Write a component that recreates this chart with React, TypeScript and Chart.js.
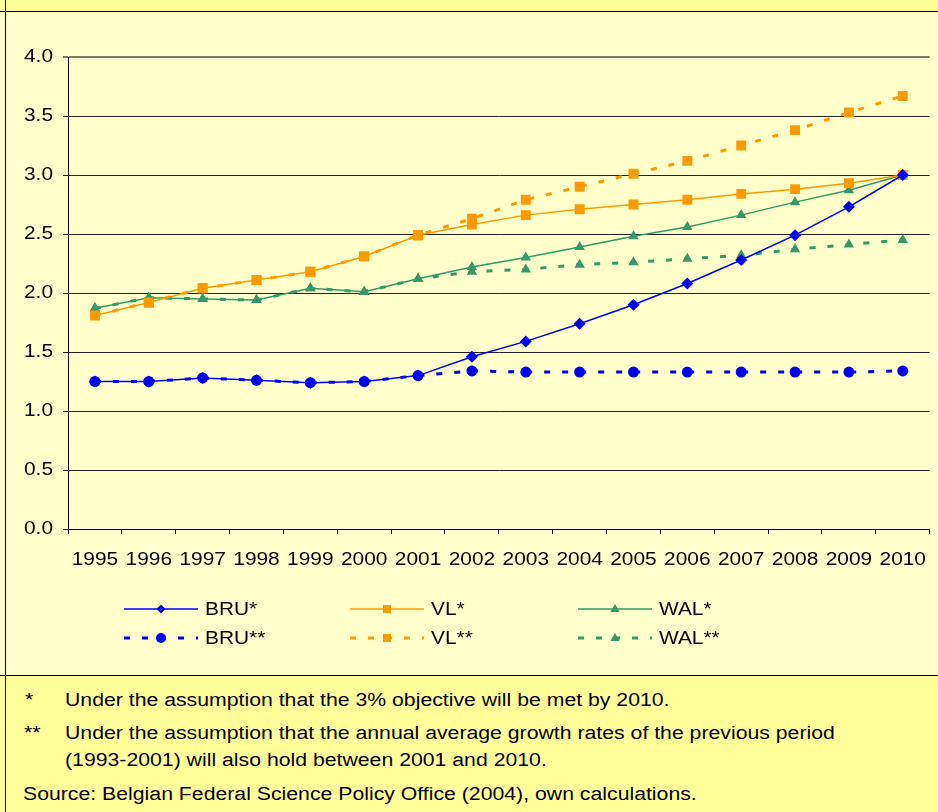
import React, { useEffect, useRef } from 'react';
import { Chart, registerables } from 'chart.js';

Chart.register(...registerables);

// ---- data ----
const years = ['1995', '1996', '1997', '1998', '1999', '2000', '2001', '2002', '2003', '2004', '2005', '2006', '2007', '2008', '2009', '2010'];
const bruObjective = [1.25, 1.25, 1.28, 1.26, 1.24, 1.25, 1.30, 1.46, 1.59, 1.74, 1.90, 2.08, 2.28, 2.49, 2.73, 3.00];
const vlObjective = [1.81, 1.92, 2.04, 2.11, 2.18, 2.31, 2.49, 2.58, 2.66, 2.71, 2.75, 2.79, 2.84, 2.88, 2.93, 3.00];
const walObjective = [1.87, 1.96, 1.95, 1.94, 2.04, 2.01, 2.12, 2.22, 2.30, 2.39, 2.48, 2.56, 2.66, 2.77, 2.87, 3.00];
const bruTrend = [1.25, 1.25, 1.28, 1.26, 1.24, 1.25, 1.30, 1.34, 1.33, 1.33, 1.33, 1.33, 1.33, 1.33, 1.33, 1.34];
const vlTrend = [1.81, 1.92, 2.04, 2.11, 2.18, 2.31, 2.49, 2.63, 2.79, 2.90, 3.01, 3.12, 3.25, 3.38, 3.53, 3.67];
const walTrend = [1.87, 1.96, 1.95, 1.94, 2.04, 2.01, 2.12, 2.18, 2.20, 2.24, 2.26, 2.29, 2.32, 2.37, 2.41, 2.45];
const seriesLabels = ['BRU*', 'VL*', 'WAL*', 'BRU**', 'VL**', 'WAL**'];
const yMin = 0;
const yMax = 4;
const yStep = 0.5;

const footnote1 = 'Under the assumption that the 3% objective will be met by 2010.';
const footnote2a = 'Under the assumption that the annual average growth rates of the previous period';
const footnote2b = '(1993-2001) will also hold between 2001 and 2010.';
const sourceText = 'Source: Belgian Federal Science Policy Office (2004), own calculations.';

const BLUE = '#0000FF';
const ORANGE = '#FF9900';
const GREEN = '#339966';
const FONT = "'Liberation Sans', Arial, Helvetica, sans-serif";
const FONT_SIZE = 18;
const STRETCH = 1.16;
const HTML_STRETCH = 1.18;

function drawMarker(ctx: CanvasRenderingContext2D, style: string, x: number, y: number, r: number, color: string) {
  ctx.save();
  ctx.fillStyle = color;
  ctx.beginPath();
  if (style === 'circle') {
    ctx.arc(x, y, r, 0, Math.PI * 2);
  } else if (style === 'rect') {
    ctx.rect(x - r * 0.8, y - r * 0.8, r * 1.6, r * 1.6);
  } else if (style === 'rectRot') {
    ctx.moveTo(x, y - r);
    ctx.lineTo(x + r, y);
    ctx.lineTo(x, y + r);
    ctx.lineTo(x - r, y);
    ctx.closePath();
  } else if (style === 'triangle') {
    ctx.moveTo(x, y - r);
    ctx.lineTo(x + r * 0.9, y + r * 0.6);
    ctx.lineTo(x - r * 0.9, y + r * 0.6);
    ctx.closePath();
  }
  ctx.fill();
  ctx.restore();
}

const legendPlugin = {
  id: 'customLegend',
  afterDraw(chart: any) {
    const ctx: CanvasRenderingContext2D = chart.ctx;
    const cols = [118, 344, 572];
    const rows = [597, 626];
    const legendSizes: Record<string, number> = { rectRot: 4.5, circle: 5, rect: 5, triangle: 5 };
    chart.data.datasets.forEach((ds: any, i: number) => {
      const x0 = cols[i % 3];
      const y = rows[Math.floor(i / 3)];
      ctx.save();
      ctx.strokeStyle = ds.borderColor;
      ctx.lineWidth = ds.borderWidth;
      ctx.setLineDash(ds.borderDash || []);
      ctx.beginPath();
      ctx.moveTo(x0, y);
      ctx.lineTo(x0 + 74, y);
      ctx.stroke();
      ctx.setLineDash([]);
      drawMarker(ctx, ds.pointStyle, x0 + 37, y, legendSizes[ds.pointStyle], ds.borderColor);
      ctx.fillStyle = '#000';
      ctx.font = `${FONT_SIZE}px ${FONT}`;
      ctx.textBaseline = 'middle';
      ctx.textAlign = 'left';
      ctx.fillText(ds.label, x0 + 81, y + 1);
      ctx.restore();
    });
  },
};

function App() {
  const canvasRef = useRef<HTMLCanvasElement | null>(null);

  useEffect(() => {
    const canvas = canvasRef.current;
    if (!canvas) return;
    const ctx = canvas.getContext('2d') as CanvasRenderingContext2D;
    // draw all canvas text slightly wider, like the reference rendering
    const origFill = ctx.fillText.bind(ctx);
    (ctx as any).fillText = (text: string, x: number, y: number, maxWidth?: number) => {
      ctx.save();
      ctx.translate(x, y);
      ctx.scale(STRETCH, 1);
      if (maxWidth === undefined || maxWidth === null) origFill(text, 0, 0);
      else origFill(text, 0, 0, maxWidth / STRETCH);
      ctx.restore();
    };

    const mk = (label: string, data: number[], color: string, dashed: boolean, pointStyle: string, radius: number) => ({
      label,
      data,
      borderColor: color,
      backgroundColor: color,
      borderWidth: dashed ? 3 : 1.5,
      borderDash: dashed ? [6, 12] : [],
      pointStyle,
      pointRadius: radius,
      pointBorderWidth: 0,
      pointBackgroundColor: color,
      pointBorderColor: color,
      tension: 0,
      fill: false,
    });
    const chart = new Chart(ctx, {
      type: 'line',
      data: {
        labels: years,
        datasets: [
          mk(seriesLabels[0], bruObjective, BLUE, false, 'rectRot', 6),
          mk(seriesLabels[1], vlObjective, ORANGE, false, 'rect', 7),
          mk(seriesLabels[2], walObjective, GREEN, false, 'triangle', 6),
          mk(seriesLabels[3], bruTrend, BLUE, true, 'circle', 5.5),
          mk(seriesLabels[4], vlTrend, ORANGE, true, 'rect', 7),
          mk(seriesLabels[5], walTrend, GREEN, true, 'triangle', 6),
        ] as any,
      },
      options: {
        animation: false,
        responsive: false,
        devicePixelRatio: 1,
        layout: { padding: { top: 45, right: 4, bottom: 106, left: 0 } },
        plugins: { legend: { display: false }, tooltip: { enabled: false }, title: { display: false } },
        font: { family: FONT, size: FONT_SIZE },
        scales: {
          x: {
            type: 'category',
            offset: true,
            afterFit: (s: any) => { s.height = 40; },
            grid: { offset: true, drawOnChartArea: false, drawTicks: true, tickLength: 5, color: '#000' },
            border: { color: '#000', width: 1 },
            ticks: { color: '#000', font: { family: FONT, size: FONT_SIZE }, padding: 15, maxRotation: 0, autoSkip: false },
          },
          y: {
            min: yMin,
            max: yMax,
            afterFit: (s: any) => { s.width = 62; },
            grid: {
              color: (c: any) => (c.tick && c.tick.value === yMax ? '#7a7a6a' : '#222'),
              lineWidth: (c: any) => (c.tick && c.tick.value === yMax ? 2 : 1),
              tickLength: 5,
              drawTicks: true,
            },
            border: { color: '#000', width: 1 },
            ticks: {
              stepSize: yStep,
              color: '#000',
              font: { family: FONT, size: FONT_SIZE },
              padding: 10,
              callback: (v: any) => Number(v).toFixed(1),
            },
          },
        },
      } as any,
      plugins: [legendPlugin],
    });
    return () => chart.destroy();
  }, []);

  const txt: React.CSSProperties = {
    position: 'absolute',
    fontFamily: FONT,
    fontSize: FONT_SIZE,
    lineHeight: '27px',
    color: '#000',
    whiteSpace: 'nowrap',
    transform: `scaleX(${HTML_STRETCH})`,
    transformOrigin: 'left top',
  };

  return (
    <div style={{ position: 'absolute', left: 0, top: 0, width: 938, height: 812, overflow: 'hidden', background: '#FFFF99' }}>
      <div style={{ position: 'absolute', left: 0, top: 0, width: 938, height: 11, background: '#FFFF99' }} />
      <div style={{ position: 'absolute', left: 0, top: 11, width: 938, height: 1, background: '#000' }} />
      <div style={{ position: 'absolute', left: 0, top: 12, width: 938, height: 663, background: '#FFFFCC' }} />
      <div style={{ position: 'absolute', left: 0, top: 675, width: 938, height: 1, background: '#000' }} />
      <div style={{ position: 'absolute', left: 5, top: 0, width: 1, height: 812, background: '#000' }} />
      <canvas ref={canvasRef} width={932} height={663} style={{ position: 'absolute', left: 6, top: 12, width: 932, height: 663 }} />
      <div style={{ ...txt, left: 25, top: 687 }}>*</div>
      <div style={{ ...txt, left: 65, top: 687 }}>{footnote1}</div>
      <div style={{ ...txt, left: 24, top: 720 }}>**</div>
      <div style={{ ...txt, left: 65, top: 720 }}>{footnote2a}<br />{footnote2b}</div>
      <div style={{ ...txt, left: 23, top: 781 }}>{sourceText}</div>
    </div>
  );
}

export default App;
